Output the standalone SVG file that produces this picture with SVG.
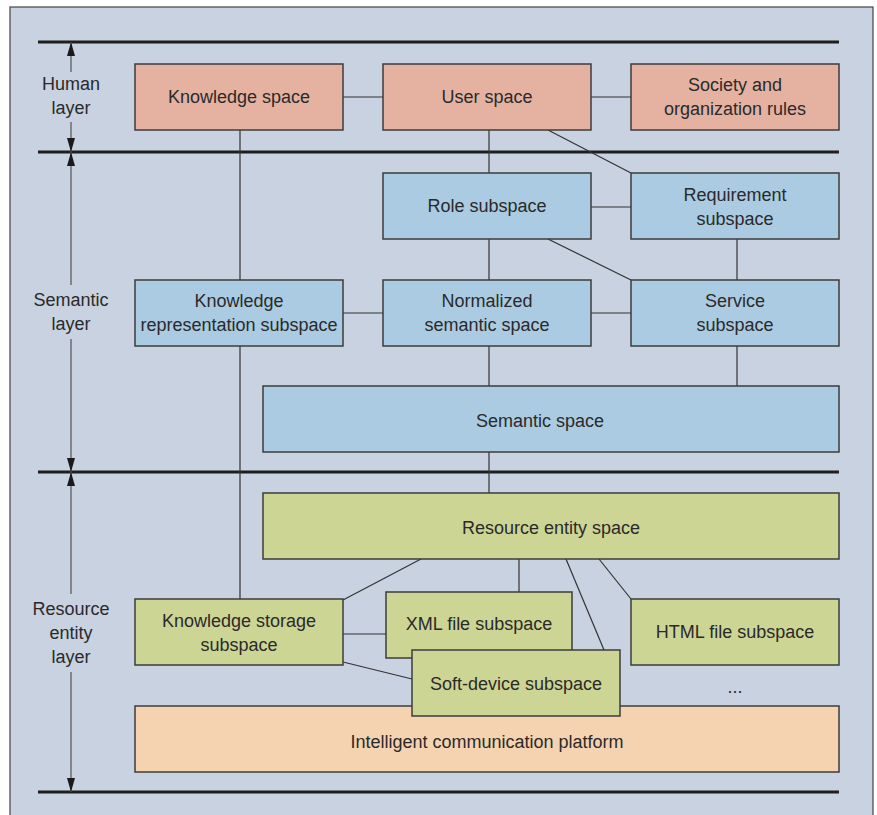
<svg xmlns="http://www.w3.org/2000/svg" width="877" height="815" viewBox="0 0 877 815">
  <style>
    text { font-family: "Liberation Sans", Arial, sans-serif; font-size: 18px; fill: #2a2a2a; text-anchor: middle; dominant-baseline: central; }
    .box { stroke: #3c3c3c; stroke-width: 1.5; }
    .human { fill: #e5b2a2; }
    .sem { fill: #aacbe2; }
    .res { fill: #cdd595; }
    .plat { fill: #f6d3b0; }
    .rule { stroke: #1e1e1e; stroke-width: 3; }
    .conn line { stroke: #333; stroke-width: 1.2; }
    .dim { stroke: #555; stroke-width: 1.2; }
  </style>
  <defs>
    <marker id="tip" viewBox="0 0 14 8" refX="14" refY="4" markerWidth="14" markerHeight="8" markerUnits="userSpaceOnUse" orient="auto">
      <path d="M0,0 L14,4 L0,8 Z" fill="#1a1a1a"/>
    </marker>
  </defs>

  <!-- panel -->
  <rect x="10" y="7" width="863" height="820" fill="#c8d2e0" stroke="#444" stroke-width="1.2"/>

  <!-- layer rules -->
  <g id="rules">
    <line class="rule" x1="38" y1="42" x2="839" y2="42"/>
    <line class="rule" x1="38" y1="152" x2="839" y2="152"/>
    <line class="rule" x1="38" y1="472" x2="839" y2="472"/>
    <line class="rule" x1="38" y1="792" x2="839" y2="792"/>
  </g>

  <!-- layer extents -->
  <g id="layer-human">
    <line class="dim" x1="71" y1="72" x2="71" y2="42" marker-end="url(#tip)"/>
    <line class="dim" x1="71" y1="122" x2="71" y2="152" marker-end="url(#tip)"/>
    <text x="71" y="84">Human</text>
    <text x="71" y="108">layer</text>
  </g>
  <g id="layer-semantic">
    <line class="dim" x1="71" y1="285" x2="71" y2="152" marker-end="url(#tip)"/>
    <line class="dim" x1="71" y1="339" x2="71" y2="472" marker-end="url(#tip)"/>
    <text x="71" y="300">Semantic</text>
    <text x="71" y="324">layer</text>
  </g>
  <g id="layer-resource">
    <line class="dim" x1="71" y1="594" x2="71" y2="472" marker-end="url(#tip)"/>
    <line class="dim" x1="71" y1="672" x2="71" y2="792" marker-end="url(#tip)"/>
    <text x="71" y="609">Resource</text>
    <text x="71" y="633">entity</text>
    <text x="71" y="657">layer</text>
  </g>

  <!-- connectors -->
  <g id="connectors" class="conn">
    <line x1="343" y1="97" x2="383" y2="97"/>
    <line x1="591" y1="97" x2="631" y2="97"/>
    <line x1="240" y1="130" x2="240" y2="280"/>
    <line x1="240" y1="346" x2="240" y2="599"/>
    <line x1="489" y1="130" x2="489" y2="173"/>
    <line x1="548" y1="130" x2="631" y2="173"/>
    <line x1="591" y1="207" x2="631" y2="207"/>
    <line x1="489" y1="239" x2="489" y2="280"/>
    <line x1="548" y1="239" x2="631" y2="280"/>
    <line x1="737" y1="239" x2="737" y2="280"/>
    <line x1="343" y1="313" x2="383" y2="313"/>
    <line x1="591" y1="313" x2="631" y2="313"/>
    <line x1="489" y1="346" x2="489" y2="386"/>
    <line x1="737" y1="346" x2="737" y2="386"/>
    <line x1="489" y1="452" x2="489" y2="493"/>
    <line x1="421" y1="559" x2="343" y2="600"/>
    <line x1="519" y1="559" x2="519" y2="592"/>
    <line x1="566" y1="559" x2="604" y2="650"/>
    <line x1="599" y1="559" x2="631" y2="599"/>
    <line x1="343" y1="634" x2="386" y2="634"/>
    <line x1="343" y1="662" x2="412" y2="679"/>
  </g>

  <!-- human layer -->
  <g id="knowledge-space">
    <rect class="box human" x="135" y="64" width="208" height="66"/>
    <text x="239" y="97">Knowledge space</text>
  </g>
  <g id="user-space">
    <rect class="box human" x="383" y="64" width="208" height="66"/>
    <text x="487" y="97">User space</text>
  </g>
  <g id="society-rules">
    <rect class="box human" x="631" y="64" width="208" height="66"/>
    <text x="735" y="85">Society and</text>
    <text x="735" y="109">organization rules</text>
  </g>

  <!-- semantic layer -->
  <g id="role-subspace">
    <rect class="box sem" x="383" y="173" width="208" height="66"/>
    <text x="487" y="206">Role subspace</text>
  </g>
  <g id="requirement-subspace">
    <rect class="box sem" x="631" y="173" width="208" height="66"/>
    <text x="735" y="195">Requirement</text>
    <text x="735" y="219">subspace</text>
  </g>
  <g id="knowledge-representation-subspace">
    <rect class="box sem" x="135" y="280" width="208" height="66"/>
    <text x="239" y="301">Knowledge</text>
    <text x="239" y="325">representation subspace</text>
  </g>
  <g id="normalized-semantic-space">
    <rect class="box sem" x="383" y="280" width="208" height="66"/>
    <text x="487" y="301">Normalized</text>
    <text x="487" y="325">semantic space</text>
  </g>
  <g id="service-subspace">
    <rect class="box sem" x="631" y="280" width="208" height="66"/>
    <text x="735" y="301">Service</text>
    <text x="735" y="325">subspace</text>
  </g>
  <g id="semantic-space">
    <rect class="box sem" x="263" y="386" width="576" height="66"/>
    <text x="540" y="421">Semantic space</text>
  </g>

  <!-- resource entity layer -->
  <g id="resource-entity-space">
    <rect class="box res" x="263" y="493" width="576" height="66"/>
    <text x="551" y="528">Resource entity space</text>
  </g>
  <g id="knowledge-storage-subspace">
    <rect class="box res" x="135" y="599" width="208" height="66"/>
    <text x="239" y="621">Knowledge storage</text>
    <text x="239" y="645">subspace</text>
  </g>
  <g id="html-file-subspace">
    <rect class="box res" x="631" y="599" width="208" height="66"/>
    <text x="735" y="632">HTML file subspace</text>
  </g>
  <g id="more-subspaces">
    <text x="735" y="687">...</text>
  </g>
  <g id="intelligent-communication-platform">
    <rect class="box plat" x="135" y="706" width="704" height="66"/>
    <text x="487" y="742">Intelligent communication platform</text>
  </g>
  <g id="xml-file-subspace">
    <rect class="box res" x="386" y="592" width="186" height="66"/>
    <text x="479" y="624">XML file subspace</text>
  </g>
  <g id="soft-device-subspace">
    <rect class="box res" x="412" y="650" width="208" height="66"/>
    <text x="516" y="684">Soft-device subspace</text>
  </g>
</svg>
